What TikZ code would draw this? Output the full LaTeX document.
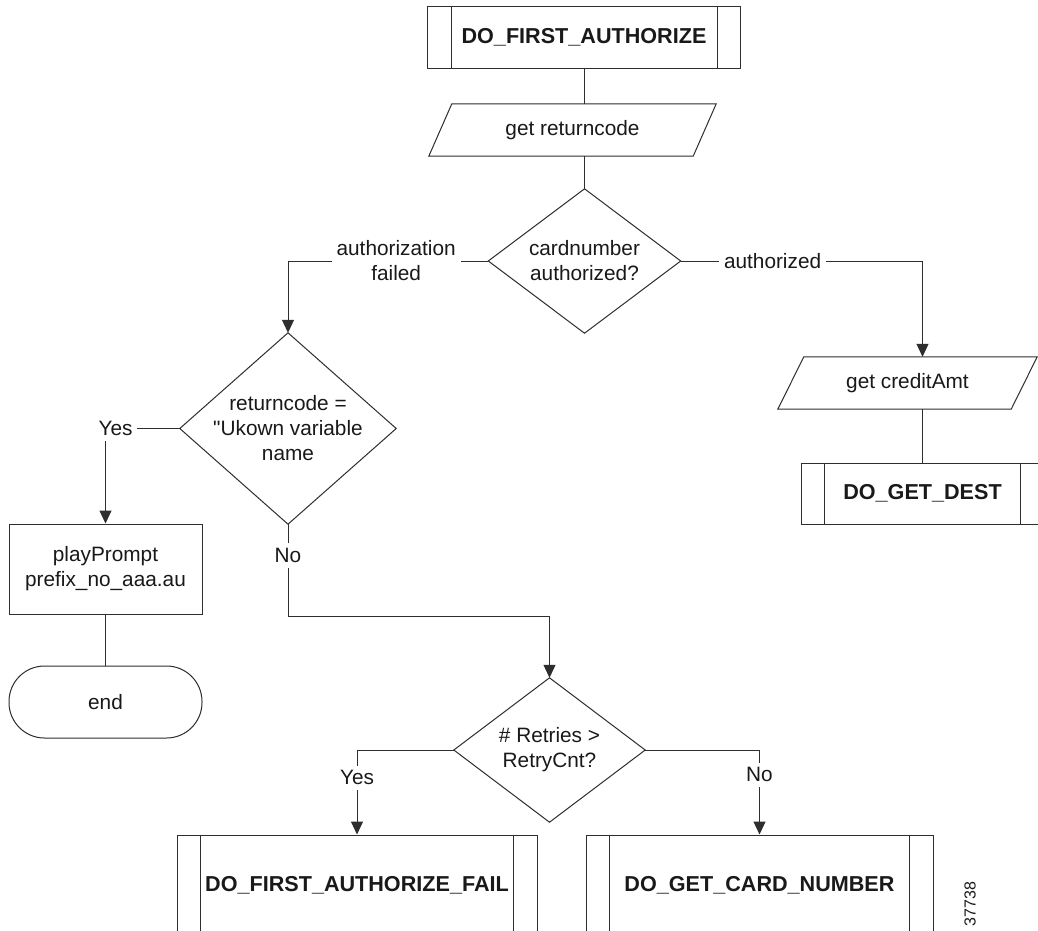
\documentclass[tikz,border=0pt]{standalone}
\usepackage{fontspec}
\setmainfont{Liberation Sans}
% same face without the TeX input mapping, for a straight double quote
\newfontfamily\rawface{Liberation Sans}
\usetikzlibrary{arrows.meta}

\colorlet{ink}{black!82}

\tikzset{
  flow/.style={line width=1pt, draw=ink},
  arrowto/.style={flow, -{Triangle[length=13pt,width=12pt]}},
  txt/.style={font=\fontsize{20.8}{25}\selectfont, text=black!90, align=center, inner sep=0pt},
  boldtxt/.style={font=\fontsize{21.6}{25}\selectfont\bfseries, text=black!90, align=center, inner sep=0pt},
  lbl/.style={txt, fill=white, inner sep=5pt},
  process/.style={txt, draw=ink, line width=1pt},
  terminal/.style={txt, draw=ink, line width=1pt, rounded corners=35.5pt},
  subroutine/.style={boldtxt, draw=ink, line width=1pt,
    append after command={\pgfextra{
      \draw[flow] ([xshift=24pt]\tikzlastnode.north west) -- ([xshift=24pt]\tikzlastnode.south west);
      \draw[flow] ([xshift=-24pt]\tikzlastnode.north east) -- ([xshift=-24pt]\tikzlastnode.south east);}}},
  io/.style n args={2}{txt, minimum width=#1, minimum height=52pt,
    append after command={\pgfextra{
      \draw[flow] ([xshift=#2]\tikzlastnode.north west) -- ([xshift=#2]\tikzlastnode.north east)
        -- ([xshift=-#2]\tikzlastnode.south east) -- ([xshift=-#2]\tikzlastnode.south west) -- cycle;}}},
  decision/.style n args={2}{txt, minimum width=#1, minimum height=#2,
    append after command={\pgfextra{
      \draw[flow] (\tikzlastnode.north) -- (\tikzlastnode.east) -- (\tikzlastnode.south)
        -- (\tikzlastnode.west) -- cycle;}}},
}

\begin{document}
\begin{tikzpicture}[x=1pt, y=-1pt]
\useasboundingbox (0,0) rectangle (1038,930);
\clip (0,0) rectangle (1038,930);
\fill[white] (0,0) rectangle (1038,930);

% nodes
\node[subroutine, minimum width=313pt, minimum height=62pt] (start) at (584,37) {DO\_FIRST\_AUTHORIZE};
\node[io={264pt}{11.5pt}] (getrc) at (572.5,130) {get returncode};
\node[decision={192pt}{144pt}] (authq) at (584.5,261) {cardnumber\\authorized?};
\node[decision={216pt}{191pt}] (rcq) at (288,428.5) {returncode =\\{\rawface"}Ukown variable\\name};
\node[process, minimum width=193pt, minimum height=90pt] (prompt) at (105.5,569) {playPrompt\\prefix\_no\_aaa.au};
\node[terminal, minimum width=193pt, minimum height=72pt] (stop) at (105.5,702) {end};
\node[io={233pt}{13pt}] (getamt) at (907.5,383) {get creditAmt};
\node[subroutine, minimum width=243pt, minimum height=61pt] (dest) at (922.5,493.5) {DO\_GET\_DEST};
\node[decision={191pt}{144pt}] (retryq) at (549.5,750) {\# Retries >\\RetryCnt?};
\node[subroutine, minimum width=360pt, minimum height=100pt] (fail) at (357,885) {DO\_FIRST\_AUTHORIZE\_FAIL};
\node[subroutine, minimum width=347pt, minimum height=100pt] (card) at (759.5,885) {DO\_GET\_CARD\_NUMBER};
\node[rotate=90, font=\fontsize{16}{16}\selectfont, text=black!90, inner sep=0pt] (fignum) at (970,904) {37738};

\coordinate (nojoin) at (288,616);

% connectors
\draw[flow] (start.south) -- (start.south |- getrc.north);
\draw[flow] (authq.north |- getrc.south) -- (authq.north);
\draw[arrowto] (authq.west) -- node[lbl, pos=0.46]{authorization\\failed} (authq.west -| rcq.north) -- (rcq.north);
\draw[arrowto] (authq.east) -- node[lbl, pos=0.38]{authorized} (authq.east -| dest.north) -- (dest.north |- getamt.north);
\draw[flow] (dest.north |- getamt.south) -- (dest.north);
\draw[arrowto] (rcq.west) -| node[lbl, pos=0.5, xshift=10pt]{Yes} (prompt.north);
\draw[flow] (prompt.south) -- (stop.north);
\draw[arrowto] (rcq.south) -- node[lbl, pos=0.34]{No} (nojoin) -| (retryq.north);
\draw[arrowto] (retryq.west) -| node[lbl, pos=0.665]{Yes} (fail.north);
\draw[arrowto] (retryq.east) -| node[lbl, pos=0.647]{No} (card.north);
\end{tikzpicture}
\end{document}
